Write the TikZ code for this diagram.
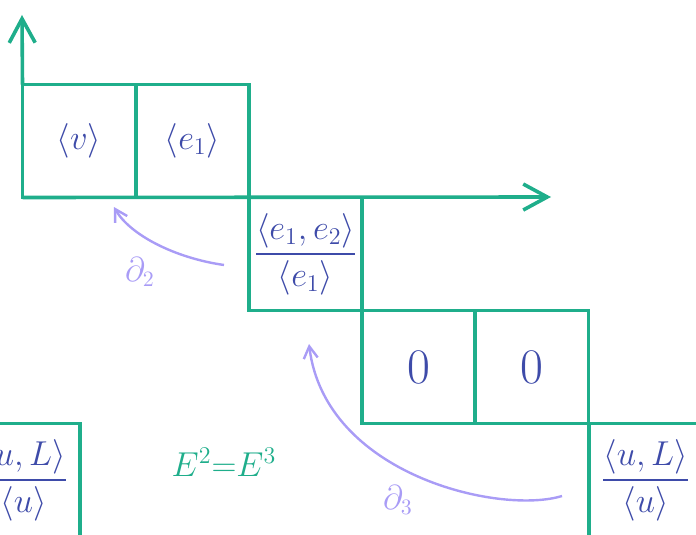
\documentclass[tikz,border=0pt]{standalone}
\usepackage{amsmath}
\usetikzlibrary{arrows.meta}
\definecolor{gridGreen}{HTML}{1FAE8B}
\definecolor{inkBlue}{HTML}{3E4BA9}
\definecolor{bdLilac}{HTML}{A99CF6}
\newcommand{\CellFont}{\fontsize{18}{20}\selectfont}
\newcommand{\ZeroFont}{\fontsize{24}{26}\selectfont}
\newcommand{\LabFont}{\fontsize{16}{18}\selectfont}
\newcommand{\EqFont}{\fontsize{18}{20}\selectfont}
\tikzset{
  cell/.style={draw=gridGreen, line width=1.8pt, minimum width=56.5pt,
    minimum height=56.5pt, inner sep=0pt, outer sep=0pt, text=inkBlue, font=\CellFont},
  axis arrow/.style={gridGreen, line width=1.8pt,
    -{Straight Barb[length=12pt,width=13pt]}},
  bd arrow/.style={bdLilac, line width=1.2pt,
    -{Straight Barb[length=6pt,width=7pt]}},
}

\begin{document}
\begin{tikzpicture}[x=0.5pt,y=-0.5pt]
  \useasboundingbox (0,0) rectangle (696,535);
  \clip (0,0) rectangle (696,535);

  % staircase of cells
  \node[cell] (v) at (79,141) {$\langle v\rangle$};
  \node[cell] (e1) at (192.5,141) {$\langle e_1\rangle$};
  \node[cell] (e12) at (305.5,254) {$\dfrac{\langle e_1,e_2\rangle}{\langle e_1\rangle}$};
  \node[cell,font=\ZeroFont] (z1) at (418.5,367) {$0$};
  \node[cell,font=\ZeroFont] (z2) at (532,367) {$0$};
  \node[cell] (uLr) at (645.5,480) {$\dfrac{\langle u,L\rangle}{\langle u\rangle}$};
  \node[cell] (uLl) at (23.5,480) {$\dfrac{\langle u,L\rangle}{\langle u\rangle}$};

  % axes
  \coordinate (ytip) at (22,15);
  \coordinate (xtip) at (551,197);
  \draw[axis arrow] (v.north west) -- (ytip);
  \draw[axis arrow] (v.south west) -- (xtip);

  % differentials
  \coordinate (d2s) at (224,265);
  \coordinate (d2e) at (114,207);
  \draw[bd arrow] (d2s) .. controls (175,258) and (130,235) .. (d2e);
  \node[font=\LabFont,text=bdLilac] (d2lab) at (140,272) {$\partial_2$};

  \coordinate (d3s) at (562,496);
  \coordinate (d3e) at (309,344);
  \draw[bd arrow] (d3s) .. controls (500,515) and (325,475) .. (d3e);
  \node[font=\LabFont,text=bdLilac] (d3lab) at (398,500) {$\partial_3$};

  \node[font=\EqFont,text=gridGreen] (eqlab) at (224,462) {$E^2{=}E^3$};
\end{tikzpicture}
\end{document}
